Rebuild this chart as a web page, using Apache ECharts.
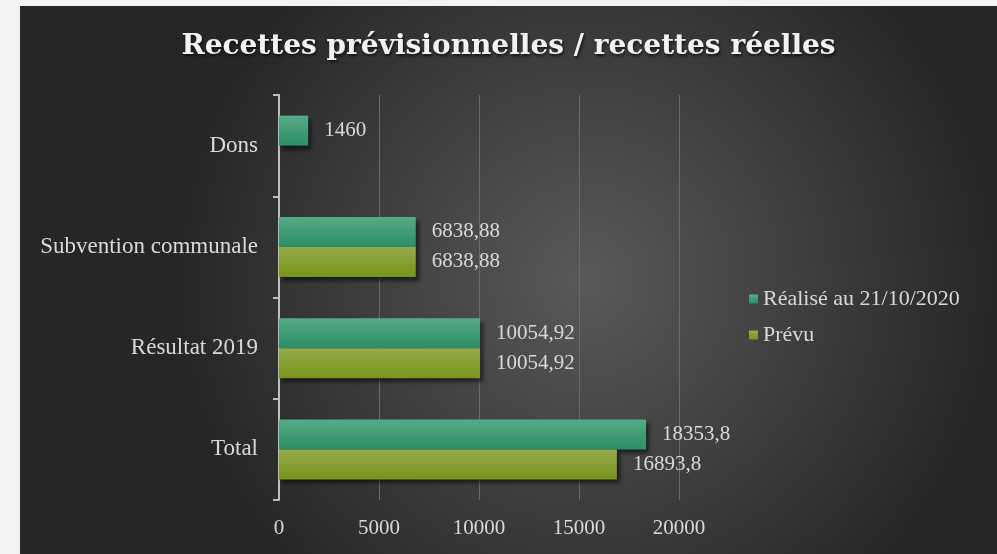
<!DOCTYPE html>
<html>
<head>
<meta charset="utf-8">
<script src="https://cdn.jsdelivr.net/npm/echarts@6/dist/echarts.min.js"></script>
<style>
  html, body { margin: 0; padding: 0; background: #f3f3f3; width: 997px; height: 554px; overflow: hidden; }
  #chart { position: absolute; left: 20px; top: 6px; width: 977px; height: 548px; }
</style>
</head>
<body>
<div id="chart"></div>
<script>
const categories = ['Total', 'Résultat 2019', 'Subvention communale', 'Dons'];
const realise = [18353.8, 10054.92, 6838.88, 1460];
const prevu = [16893.8, 10054.92, 6838.88, null];
const xTicks = { min: 0, max: 20000, interval: 5000 };
const seriesNames = ['Réalisé au 21/10/2020', 'Prévu'];

const FONT = 'Liberation Serif';
const TXT = '#d9d9d9';

const chart = echarts.init(document.getElementById('chart'));
const fmt = p => String(p.value).replace('.', ',');

function barStyle(top, bottom) {
  return {
    color: new echarts.graphic.LinearGradient(0, 0, 0, 1, [
      { offset: 0, color: top }, { offset: 1, color: bottom }
    ]),
    shadowColor: 'rgba(0,0,0,0.55)',
    shadowBlur: 4,
    shadowOffsetX: 3,
    shadowOffsetY: 4
  };
}

const labelStyle = { show: true, position: 'right', distance: 16, formatter: fmt, fontFamily: FONT, fontSize: 21, color: TXT };

chart.setOption({
  backgroundColor: new echarts.graphic.RadialGradient(0.58, 0.5, 0.75, [
    { offset: 0, color: '#595959' },
    { offset: 1, color: '#262626' }
  ]),
  title: {
    text: 'Recettes prévisionnelles / recettes réelles',
    left: 'center',
    top: 22,
    textStyle: {
      fontFamily: 'DejaVu Serif',
      fontWeight: 'bold',
      fontSize: 28,
      color: '#f2f2f2',
      textShadowColor: 'rgba(0,0,0,0.7)',
      textShadowBlur: 3,
      textShadowOffsetX: 1,
      textShadowOffsetY: 2
    }
  },
  legend: {
    orient: 'vertical',
    left: 724,
    top: 277,
    itemWidth: 9,
    itemHeight: 9,
    itemGap: 14,
    icon: 'rect',
    data: seriesNames,
    textStyle: { fontFamily: FONT, fontSize: 22, lineHeight: 22, color: TXT }
  },
  grid: { left: 259, right: 318, top: 89, bottom: 54, containLabel: false },
  xAxis: {
    type: 'value',
    min: xTicks.min, max: xTicks.max, interval: xTicks.interval,
    axisLine: { show: false },
    axisTick: { show: false },
    splitLine: { lineStyle: { color: '#6a6a6a', width: 1 } },
    axisLabel: { fontFamily: FONT, fontSize: 21, color: TXT, margin: 18, formatter: v => String(v) }
  },
  yAxis: {
    type: 'category',
    data: categories,
    axisLine: { lineStyle: { color: '#bfbfbf', width: 2 } },
    axisTick: { show: true, length: 6, lineStyle: { color: '#bfbfbf', width: 2 } },
    axisLabel: { fontFamily: FONT, fontSize: 23, color: TXT, margin: 21 }
  },
  series: [
    {
      name: seriesNames[0], type: 'bar', data: realise, barWidth: 30, barGap: '0%',
      itemStyle: barStyle('#58aa86', '#2b8e66'),
      label: labelStyle
    },
    {
      name: seriesNames[1], type: 'bar', data: prevu, barWidth: 30, barGap: '0%',
      itemStyle: barStyle('#95aa4c', '#789419'),
      label: labelStyle
    }
  ]
});
</script>
</body>
</html>
